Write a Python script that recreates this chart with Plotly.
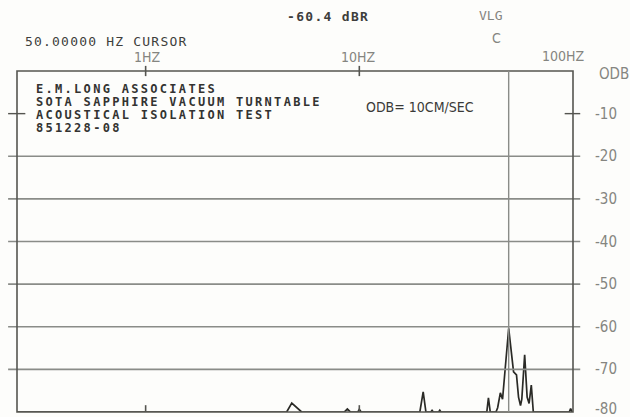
import math
import plotly.graph_objects as go

# ---- data (frequency in Hz, level in dB) ----
freq_hz = [0.25, 4.40, 4.57, 4.83, 5.37, 5.60, 8.50, 8.79, 9.10, 9.85, 10.0, 10.2,
           18.9, 19.2, 19.9, 20.5, 20.9, 21.6, 21.9, 22.2, 23.5, 23.8, 24.1,
           39.0, 39.5, 40.2, 41.0, 43.6, 44.4, 45.7, 46.8, 50.0, 51.5, 52.7,
           54.4, 55.6, 56.8, 57.6, 59.4, 61.0, 62.3, 63.8, 65.2, 96.0, 97.5,
           99.0, 100.0]
level_db = [-80.0, -80.0, -80.0, -77.9, -80.0, -80.0, -80.0, -79.3, -80.0, -80.0, -79.4, -80.0,
            -80.0, -80.0, -75.3, -80.0, -80.0, -80.0, -79.6, -80.0, -80.0, -79.6, -80.0,
            -80.0, -80.0, -76.7, -80.0, -80.0, -79.0, -75.5, -77.0, -60.4, -65.4, -70.6,
            -71.3, -76.5, -78.5, -77.0, -66.6, -76.5, -78.0, -73.7, -80.0, -80.0, -79.2,
            -80.0, -80.0]

x_tick_vals = [1, 10, 100]
x_tick_text = ["1HZ", "10HZ", "100HZ"]
y_tick_vals = [0, -10, -20, -30, -40, -50, -60, -70, -80]
y_tick_text = ["ODB", "-10", "-20", "-30", "-40", "-50", "-60", "-70", "-80"]
grid_db = [-20, -30, -40, -50, -60, -70]
cursor_hz = 50.0

header_lines = ["E.M.LONG ASSOCIATES",
                "SOTA SAPPHIRE VACUUM TURNTABLE",
                "ACOUSTICAL ISOLATION TEST",
                "851228-08"]

# ---- styling ----
MONO = "DejaVu Sans Mono"
NARROW = "Liberation Sans Narrow, DejaVu Sans Condensed, Arial Narrow, sans-serif"
AXIS_C = "#555550"
GRID_C = "#8a8c88"
TXT_C = "#3e3e3c"
LBL_C = "#858580"

L, R, T, B = 17, 57, 71, 5
W, H = 630, 417
pw, ph = W - L - R, H - T - B


def px_x(x):
    return (x - L) / pw


def px_y(y):
    return 1 - (y - T) / ph


def spaced(text, size, spacing, bold=False):
    st = "font-size:%spx;letter-spacing:%spx" % (size, spacing)
    if bold:
        st += ";font-weight:bold"
    return '<span style="%s">%s</span>' % (st, text)


fig = go.Figure()
fig.add_trace(go.Scatter(x=freq_hz, y=level_db, mode="lines",
                         line=dict(color="#2a2a26", width=1.7),
                         hoverinfo="skip", showlegend=False))

shapes = []
for g in grid_db:
    shapes.append(dict(type="line", xref="paper", yref="y", x0=-0.016, x1=1.013,
                       y0=g, y1=g, line=dict(color=GRID_C, width=1.6)))
shapes.append(dict(type="line", xref="paper", yref="y", x0=-0.016, x1=0.015,
                   y0=-10, y1=-10, line=dict(color=AXIS_C, width=1.4)))
shapes.append(dict(type="line", xref="paper", yref="y", x0=0.985, x1=1.013,
                   y0=-10, y1=-10, line=dict(color=AXIS_C, width=1.4)))
shapes.append(dict(type="rect", xref="paper", yref="paper", x0=0, x1=1, y0=0, y1=1,
                   line=dict(color=AXIS_C, width=1.6)))
shapes.append(dict(type="line", xref="x", yref="paper", x0=cursor_hz, x1=cursor_hz,
                   y0=0, y1=1, line=dict(color=GRID_C, width=1.4)))
for v in x_tick_vals[:-1]:
    shapes.append(dict(type="line", xref="x", yref="paper", x0=v, x1=v,
                       y0=0.985, y1=1.015, line=dict(color=AXIS_C, width=1.6)))
    shapes.append(dict(type="line", xref="x", yref="paper", x0=v, x1=v,
                       y0=0, y1=0.02, line=dict(color=AXIS_C, width=1.6)))

annotations = []
# right-hand dB labels
for v, t in zip(y_tick_vals, y_tick_text):
    xs = 24 if v == 0 else 20
    ys = -3 if v == 0 else (3 if v == -80 else 0)
    annotations.append(dict(x=1, xref="paper", y=v, yref="y", text=t,
                            xanchor="left", yanchor="middle", xshift=xs, yshift=ys,
                            showarrow=False,
                            font=dict(family=NARROW, size=15, color=LBL_C)))
# frequency labels on top (annotation x on a log axis is log10 of the value)
for v, t in zip(x_tick_vals, x_tick_text):
    annotations.append(dict(x=math.log10(v), xref="x", y=1, yref="paper", text=t,
                            xanchor="center", yanchor="bottom",
                            xshift=(-10 if v == 100 else (1 if v == 1 else -1)),
                            yshift=(5 if v == 100 else 4),
                            showarrow=False,
                            font=dict(family=NARROW, size=14, color=LBL_C)))
# header block: one text, tight line spacing via small base size + styled span
header_html = "<br>".join(spaced(s, 12, 2.3, bold=True) for s in header_lines)
annotations.append(dict(x=px_x(34), y=px_y(108), xref="paper", yref="paper",
                        text=header_html, showarrow=False, xanchor="left", yanchor="middle",
                        align="left",
                        font=dict(family=MONO, size=10, color="#333331")))
annotations.append(dict(x=px_x(364), y=px_y(107), xref="paper", yref="paper",
                        text="ODB= 10CM/SEC", showarrow=False, xanchor="left",
                        yanchor="middle",
                        font=dict(family=NARROW, size=14, color="#3a3a38")))
# top status text
for x, y, t, anc, fam, sz, col in [
        (23, 41, spaced("50.00000 HZ CURSOR", 13, 1.2), "left", MONO, 13, TXT_C),
        (285, 17, spaced("-60.4 dBR", 13, 1.3, bold=True), "left", MONO, 13, TXT_C),
        (491, 16, "VLG", "center", MONO, 13, LBL_C),
        (496, 38, "C", "center", NARROW, 14, LBL_C)]:
    annotations.append(dict(x=px_x(x), y=px_y(y), xref="paper", yref="paper", text=t,
                            xanchor=anc, yanchor="middle", showarrow=False,
                            font=dict(family=fam, size=sz, color=col)))

fig.update_layout(
    width=W, height=H,
    margin=dict(l=L, r=R, t=T, b=B),
    paper_bgcolor="#fdfdfb", plot_bgcolor="#fdfdfb",
    xaxis=dict(type="log", range=[-0.602, 2.0], showgrid=False, zeroline=False,
               showticklabels=False, ticks="", showline=False, fixedrange=True),
    yaxis=dict(range=[-80, 0], showgrid=False, zeroline=False,
               showticklabels=False, ticks="", showline=False, fixedrange=True),
    shapes=shapes, annotations=annotations, showlegend=False,
)

fig.write_html("out.html", config={"displayModeBar": False},
               post_script="document.body.style.margin='0';document.body.style.overflow='hidden';")
